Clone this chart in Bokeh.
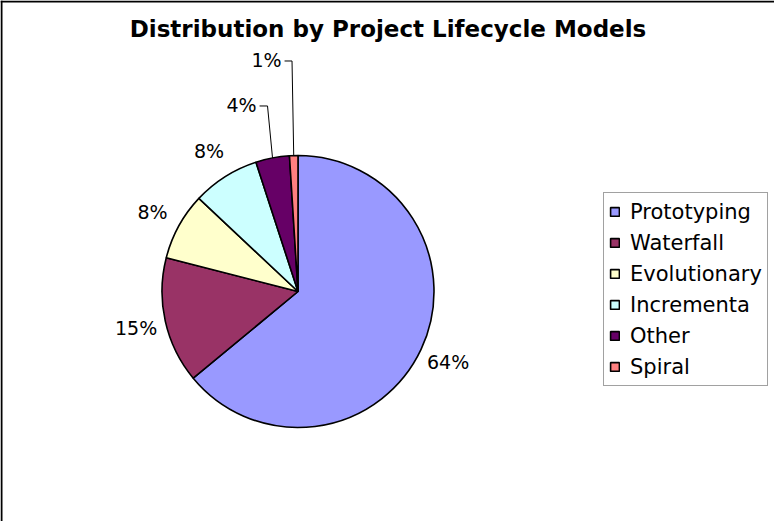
import math
from bokeh.plotting import figure
from bokeh.models import ColumnDataSource, Range1d, Label, Span
from bokeh.core.properties import value
from bokeh.embed import file_html
from bokeh.resources import INLINE

# ---- data ----
categories = ["Prototyping", "Waterfall", "Evolutionary", "Incrementa", "Other", "Spiral"]
shares = [64, 15, 8, 8, 4, 1]
colors = ["#9999FF", "#993366", "#FFFFCC", "#CCFFFF", "#660066", "#FF8080"]
title_text = "Distribution by Project Lifecycle Models"

# ---- layout (pixel-like data units) ----
W, H = 774, 521
CX, CY, R = 297.5, 230.0, 136.0
LABEL_R = 1.22
# label placement overrides for the two small slices (radius factor, angle cw from top, degrees)
LABEL_OVERRIDE = {4: (1.433, 343.15), 5: (1.718, 352.25)}
ELBOW_DX = {4: -5.0, 5: -1.7}
LABEL_FS = 19

p = figure(width=W, height=H, x_range=Range1d(0, W), y_range=Range1d(0, H),
           output_backend="svg", toolbar_location=None, min_border=0,
           outline_line_color=None)
p.axis.visible = False
p.xgrid.visible = False
p.ygrid.visible = False
p.background_fill_color = "white"

total = float(sum(shares))
starts, ends, mids = [], [], []
cum = 0.0
for s in shares:
    a0 = cum / total
    cum += s
    a1 = cum / total
    starts.append(math.pi / 2 - 2 * math.pi * a0)
    ends.append(math.pi / 2 - 2 * math.pi * a1)
    mids.append((a0 + a1) / 2 * 360.0)

src = ColumnDataSource(dict(category=categories, start=starts, end=ends, color=colors,
                            x=[CX] * len(categories), y=[CY] * len(categories)))
p.wedge(x="x", y="y", radius=R, start_angle="start", end_angle="end", direction="clock",
        fill_color="color", line_color="black", line_width=1.6, source=src,
        legend_field="category")

# percentage labels
lx, ly, lt = [], [], []
for i, s in enumerate(shares):
    rf, ang = LABEL_OVERRIDE.get(i, (LABEL_R, mids[i]))
    rad = math.radians(ang)
    x = CX + math.sin(rad) * R * rf
    y = CY + math.cos(rad) * R * rf
    lx.append(x); ly.append(y); lt.append(f"{round(100 * s / total)}%")
    if i in LABEL_OVERRIDE:
        mrad = math.radians(mids[i])
        ex = CX + math.sin(mrad) * R
        ey = CY + math.cos(mrad) * R
        half = (0.636 * (len(lt[-1]) - 1) + 0.95) * LABEL_FS / 2
        p.line([x + half + 3, ex + ELBOW_DX[i], ex], [y - 1, y - 1, ey],
               line_color="black", line_width=1)

p.text(x=lx, y=ly, text=lt, text_align="center", text_baseline="middle",
       text_font=value("DejaVu Sans"), text_font_size=f"{LABEL_FS}px", text_color="black")

# title
p.add_layout(Label(x=387.5, y=492.5, text=title_text, text_align="center",
                   text_baseline="middle", text_font="DejaVu Sans",
                   text_font_style="bold", text_font_size="23px", text_color="black"))

# chart border (left & top visible)
p.add_layout(Span(location=1, dimension="height", line_color="black", line_width=2))
p.add_layout(Span(location=H - 1, dimension="width", line_color="black", line_width=2))

lg = p.legend[0]
lg.location = (603, 135)
lg.margin = 0
lg.padding = 5
lg.spacing = 4
lg.label_height = 27
lg.glyph_width = 11
lg.glyph_height = 11
lg.label_standoff = 10
lg.label_text_font = "DejaVu Sans"
lg.label_text_font_size = "21px"
lg.label_text_color = "black"
lg.border_line_color = "#444444"
lg.border_line_width = 1
lg.background_fill_color = "white"
lg.background_fill_alpha = 1.0

open("out.html", "w").write(file_html(p, INLINE))
